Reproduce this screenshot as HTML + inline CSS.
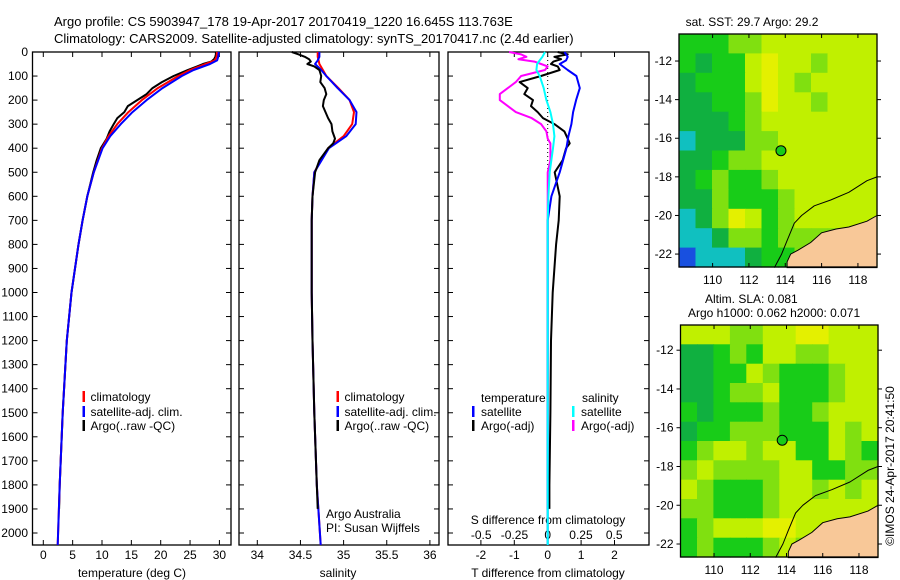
<!DOCTYPE html>
<html><head><meta charset="utf-8"><style>
html,body{margin:0;padding:0;background:#fff;}
svg{display:block;font-family:"Liberation Sans",sans-serif;}
text{font-size:12px;fill:#000;}
</style></head><body>
<svg id="c" width="900" height="580" viewBox="0 0 900 580" xmlns="http://www.w3.org/2000/svg">
<rect width="900" height="580" fill="#fff"/>
<text x="54" y="26" style="font-size:13px">Argo profile: CS 5903947_178 19-Apr-2017 20170419_1220 16.645S 113.763E</text>
<text x="54" y="43" style="font-size:13px">Climatology: CARS2009. Satellite-adjusted climatology: synTS_20170417.nc (2.4d earlier)</text>
<g id="g"></g>
</svg>
<script>
// ---------- data ----------
const depthTicks=[0,100,200,300,400,500,600,700,800,900,1000,1100,1200,1300,1400,1500,1600,1700,1800,1900,2000];
const tempTicks=[0,5,10,15,20,25,30];
const salTicks=[34,34.5,35,35.5,36];
const tdiffTicks=[-2,-1,0,1,2];
const sdiffTicks=[-0.5,-0.25,0,0.25,0.5];
const sdiffTickLabels=["-0.5","-0.25","0","0.25","0.5"];
const climDepth=[0,20,35,50,75,100,150,200,250,300,350,400,500,600,700,800,1000,1200,1500,1800,2050];
const climTemp=[29.6,29.5,29.2,27.6,25,23,19.5,16.8,14.5,12.6,11.1,10.0,8.6,7.5,6.7,6,4.8,4,3.3,2.8,2.45];
const satTemp=[29.9,29.8,29.6,28.4,25.6,23.6,20.3,17.6,15.2,13.2,11.4,10.1,8.6,7.5,6.7,6,4.8,4,3.3,2.8,2.45];
const climSal=[34.70,34.70,34.71,34.72,34.76,34.80,34.94,35.07,35.12,35.10,35.0,34.82,34.66,34.64,34.63,34.63,34.63,34.64,34.66,34.69,34.735];
const satSal=[34.72,34.72,34.70,34.67,34.74,34.80,34.93,35.07,35.15,35.14,35.03,34.83,34.66,34.64,34.63,34.63,34.63,34.64,34.66,34.69,34.735];
const argoDepth=[0,10,20,30,40,50,60,75,100,125,150,175,200,225,250,275,300,330,360,380,400,450,500,600,700,800,1000,1200,1500,1800,1900];
const argoTemp=[29.4,29.4,29.3,29.1,28.6,27.2,26.2,24.6,22.2,20.2,18.6,17.6,16.0,14.4,13.8,12.6,12.0,11.3,10.8,10.3,9.8,9.1,8.5,7.5,6.7,6.0,4.8,4.0,3.3,2.8,2.7];
const argoSal=[34.40,34.48,34.55,34.60,34.62,34.58,34.66,34.72,34.74,34.73,34.78,34.80,34.77,34.76,34.79,34.82,34.86,34.87,34.90,34.88,34.82,34.72,34.67,34.64,34.63,34.63,34.63,34.64,34.66,34.69,34.70];
const argoTdiff=[0.3,0.6,0.2,0.4,0.17,0.1,0.3,0.36,-0.2,-0.84,-0.6,-0.7,-0.44,-0.5,-0.3,-0.14,0.2,0.5,0.6,0.66,0.55,0.45,0.21,0.36,0.33,0.25,0.15,0.1,0.08,0.05,0.05];
const argoSdiff=[-0.29,-0.2,-0.16,-0.22,-0.1,-0.05,0.0,-0.02,-0.2,-0.24,-0.3,-0.36,-0.36,-0.3,-0.24,-0.12,-0.05,-0.01,0.0,0.02,0.02,0.02,0.0,0.0,0.0,0.0,0.0,0.0,0.0,0.0,0.0];
const satTdiff=[0.5,0.6,0.55,0.36,0.6,0.86,0.96,0.85,0.76,0.71,0.62,0.56,0.36,0.11,0,0,0,0,0,0,0];
const satSdiff=[-0.02,-0.04,-0.06,-0.08,-0.085,-0.06,-0.03,-0.01,0.02,0.04,0.05,0.04,0.015,0.005,0,0,0,0,0,0,0];
const lonTicks=[110,112,114,116,118];
const lat1Ticks=[-12,-14,-16,-18,-20,-22];
const argoLon=113.763, argoLat=-16.645;
const sstGrid=[
"ggglly yyyyyy".replace(' ',''),"gtggyYyylyyy","tggg yYylyyyy".replace(' ',''),"ttgglYyylyyy","tttglyyyyyyy","ctttllyyyyyy",
"ttgllyyyyyyy","tglgglyyyyyy","ttlggglyyyyy","ctlYyglyyyyy","cctllgllllyy","bccctgglllll"];
const slaGrid=[
"yyyllyyYYyyy","ttglgyyllyyy","ttggylggglyy","ttgllygggly y".replace(' ',''),"gtggglgglyyy","tgglllgggyly",
"glyylyyggylg","lyllllyygg ll".replace(' ',''),"ylggglyylyly","llggglyyyyyy","glyyyYYyyyyy","glggglylyyyy"];
const colorOf={b:"#1850e0",c:"#10c0c0",t:"#10b040",g:"#18cc18",l:"#80e010",y:"#c0f000",Y:"#e4f000"};
const landLon=[119.05,118.5,117.5,116.8,116,115.4,114.7,114.3,114.1,114.1,119.05];
const landLat=[-20.0,-20.3,-20.6,-20.7,-20.9,-21.4,-21.8,-22.0,-22.4,-22.7,-22.7];
const shelfLon=[119.05,118.5,117.5,116.5,115.6,114.9,114.5,114.1,113.8,113.4];
const shelfLat=[-18.0,-18.2,-18.8,-19.2,-19.5,-20.0,-20.4,-21.3,-22.0,-22.7];

// ---------- helpers ----------
const NS="http://www.w3.org/2000/svg";
const G=document.getElementById('g');
function mk(tag,attrs,parent){const e=document.createElementNS(NS,tag);for(const k in attrs)e.setAttribute(k,attrs[k]);(parent||G).appendChild(e);return e;}
const yD=d=>52+d*0.2405;
const xT=t=>43.3+t*5.87;
const xS=s=>257.3+(s-34)*86.3;
const xTd=t=>547.7+t*33.4;
const xSd=s=>547.7+s*133;
function poly(xs,ys,col,w,name,dash){
  const p=xs.map((x,i)=>x.toFixed(1)+","+ys[i].toFixed(1)).join(" ");
  const e=mk('polyline',{points:p,fill:"none",stroke:col,"stroke-width":w,"stroke-linejoin":"round"});
  if(dash)e.setAttribute('stroke-dasharray',dash);
  
  
}
function txt(x,y,s,name,anchor,size){
  const e=mk('text',{x:x,y:y,"text-anchor":anchor||"start"});
  if(size)e.setAttribute('style','font-size:'+size+'px');
  e.textContent=s;
  
  
  return e;
}
function frame(x0,x1,y0,y1,name){
  const e=mk('rect',{x:x0,y:y0,width:x1-x0,height:y1-y0,fill:"none",stroke:"#000","stroke-width":1.3});
  
  
}
function tickH(x,y0,y1){mk('line',{x1:x,x2:x,y1:y0,y2:y1,stroke:"#000","stroke-width":1});}
function tickV(x0,x1,y){mk('line',{x1:x0,x2:x1,y1:y,y2:y,stroke:"#000","stroke-width":1});}
function legBar(x,y,col,name){const e=mk('rect',{x:x-1,y:y-6,width:2.5,height:11,fill:col});}

// ---------- profile panels ----------
const panels=[[32.5,231],[239,439],[448,649]];
panels.forEach((p,i)=>{
  frame(p[0],p[1],52,545,['temperature-panel','salinity-panel','difference-panel'][i]);
  depthTicks.forEach(d=>{tickV(p[0],p[0]+5,yD(d));tickV(p[1]-5,p[1],yD(d));});
});
depthTicks.forEach(d=>txt(28,yD(d)+4,String(d),'depth-tick-label','end'));
tempTicks.forEach(t=>{tickH(xT(t),52,57);tickH(xT(t),540,545);txt(xT(t),559,String(t),'temp-tick-label','middle');});
salTicks.forEach(s=>{tickH(xS(s),52,57);tickH(xS(s),540,545);txt(xS(s),559,String(s),'sal-tick-label','middle');});
tdiffTicks.forEach(t=>{tickH(xTd(t),52,57);tickH(xTd(t),540,545);txt(xTd(t),559,String(t),'tdiff-tick-label','middle');});
sdiffTicks.forEach((s,i)=>txt(xSd(s),539,sdiffTickLabels[i],'sdiff-tick-label','middle'));
txt(132,577,'temperature (deg C)','temp-axis-title','middle');
txt(338,577,'salinity','sal-axis-title','middle');
txt(548,577,'T difference from climatology','tdiff-axis-title','middle');
txt(548,524,'S difference from climatology','sdiff-axis-title','middle');

// temperature
poly(argoTemp.map(xT),argoDepth.map(yD),"#000",2,'argo-temp-line');
poly(climTemp.map(xT),climDepth.map(yD),"#f00",2,'clim-temp-line');
poly(satTemp.map(xT),climDepth.map(yD),"#00f",2,'sat-temp-line');
// salinity
poly(climSal.map(xS),climDepth.map(yD),"#f00",2,'clim-sal-line');
poly(satSal.map(xS),climDepth.map(yD),"#00f",2,'sat-sal-line');
poly(argoSal.map(xS),argoDepth.map(yD),"#000",2,'argo-sal-line');
// diffs
poly([xTd(0),xTd(0)],[yD(0),yD(520)],"#000",1,'zero-line','1,3');
poly(argoSdiff.map(xSd),argoDepth.map(yD),"#f0f",2,'argo-sdiff-line');
poly(argoTdiff.map(xTd),argoDepth.map(yD),"#000",2,'argo-tdiff-line');
poly(satTdiff.map(xTd),climDepth.map(yD),"#00f",2,'sat-tdiff-line');
poly(satSdiff.map(xSd),climDepth.map(yD),"#0ff",2,'sat-sdiff-line');

// legends
[[83.5,90.5],[337.5,344.5]].forEach((L,i)=>{
  legBar(L[0],397,"#f00",'legend-climatology');txt(L[1],401,'climatology','legend-climatology-label');
  legBar(L[0],412,"#00f",'legend-satellite');txt(L[1],416,'satellite-adj. clim.','legend-satellite-label');
  legBar(L[0],426,"#000",'legend-argo');txt(L[1],430,'Argo(..raw -QC)','legend-argo-label');
});
txt(481,402,'temperature','legend-temp-heading');
legBar(473,412,"#00f",'legend-temp-satellite');txt(481,416,'satellite','legend-temp-satellite-label');
legBar(473,426,"#000",'legend-temp-argo');txt(481,430,'Argo(-adj)','legend-temp-argo-label');
txt(582,402,'salinity','legend-sal-heading');
legBar(573,412,"#0ff",'legend-sal-satellite');txt(581,416,'satellite','legend-sal-satellite-label');
legBar(573,426,"#f0f",'legend-sal-argo');txt(581,430,'Argo(-adj)','legend-sal-argo-label');
txt(326,518,'Argo Australia','credit-argo-australia');
txt(326,532,'PI: Susan Wijffels','credit-pi');

// ---------- maps ----------
function drawMap(grid,x0,x1,y0,y1,lat0,lat1,latTicks,name){
  const lon0=108.15,lon1=119.05;
  const X=l=>x0+(l-lon0)/(lon1-lon0)*(x1-x0);
  const Y=a=>y0+(lat0-a)/(lat0-lat1)*(y1-y0);
  const rows=grid.length,cols=12;
  const cw=(x1-x0)/cols,ch=(y1-y0)/rows;
  grid.forEach((r,ri)=>{for(let ci=0;ci<cols;ci++){
    const e=mk('rect',{x:(x0+ci*cw).toFixed(1),y:(y0+ri*ch).toFixed(1),width:(cw+0.6).toFixed(1),height:(ch+0.6).toFixed(1),fill:colorOf[r[ci]]||"#80e010"});
    
    
  }});
  const lp=landLon.map((l,i)=>X(l).toFixed(1)+","+Y(landLat[i]).toFixed(1)).join(" ");
  const land=mk('polygon',{points:lp,fill:"#f8c898",stroke:"#000","stroke-width":1});
  
  
  poly(shelfLon.map(X),shelfLat.map(Y),"#000",1,name+'-shelf-contour');
  const c=mk('circle',{cx:X(argoLon),cy:Y(argoLat),r:5,fill:"#18cc18",stroke:"#000","stroke-width":1});
  
  
  frame(x0,x1,y0,y1,name+'-frame');
  lonTicks.forEach(l=>{tickH(X(l),y0,y0+4);tickH(X(l),y1-4,y1);txt(X(l),y1+17,String(l),name+'-lon-label','middle');});
  latTicks.forEach(a=>{tickV(x0-4,x0,Y(a));tickV(x1,x1+4,Y(a));txt(x0-7,Y(a)+4,String(a),name+'-lat-label','end');});
}
drawMap(sstGrid,679,877,34,267,-10.6,-22.67,lat1Ticks,'sst-map');
drawMap(slaGrid,680.5,878,325,557,-10.7,-22.67,lat1Ticks,'sla-map');
txt(752,26,'sat. SST: 29.7 Argo: 29.2','sst-map-title','middle');
txt(705,303,'Altim. SLA: 0.081','sla-map-title');
txt(688,317,'Argo h1000: 0.062 h2000: 0.071','sla-map-subtitle');
const cp=txt(0,0,'©IMOS 24-Apr-2017 20:41:50','timestamp','middle');
cp.setAttribute('transform','translate(894,466) rotate(-90)');
</script>
</body></html>
